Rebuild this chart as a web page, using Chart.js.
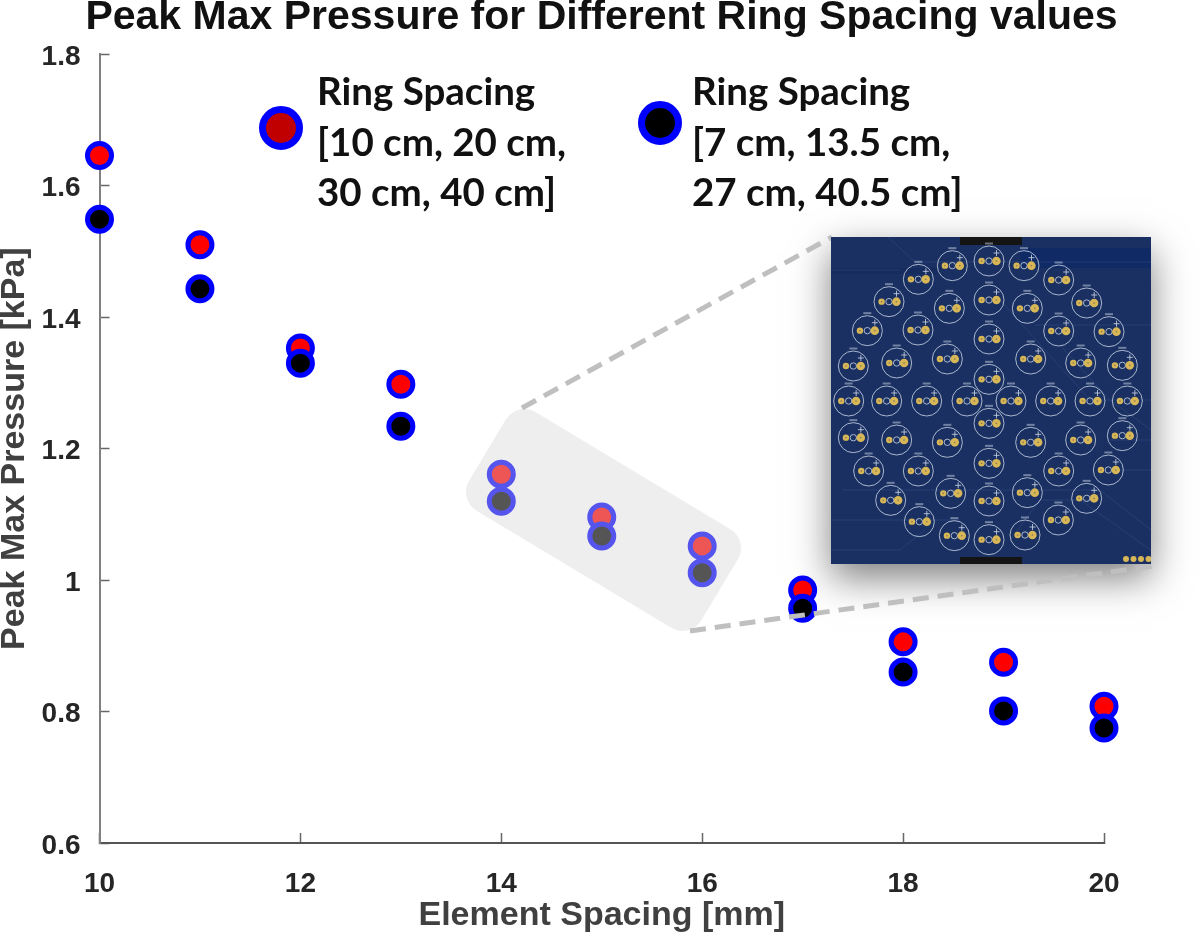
<!DOCTYPE html>
<html>
<head>
<meta charset="utf-8">
<title>Peak Max Pressure</title>
<script src="https://cdn.jsdelivr.net/npm/chart.js@4"></script>
<style>
  html, body { margin: 0; padding: 0; background: #fff; }
  canvas { display: block; filter: blur(0.5px); }
</style>
</head>
<body>
<canvas id="myChart" width="1200" height="936"></canvas>
<script>
const elementSpacing = [10, 11, 12, 13, 14, 15, 16, 17, 18, 19, 20];
const pressure10cm = [1.646, 1.510, 1.353, 1.298, 1.161, 1.096, 1.052, 0.985, 0.906, 0.875, 0.808];
const pressure7cm = [1.549, 1.443, 1.330, 1.234, 1.120, 1.067, 1.011, 0.957, 0.860, 0.801, 0.775];
const yTickValues = [0.6, 0.8, 1, 1.2, 1.4, 1.6, 1.8];
const xTickValues = [10, 12, 14, 16, 18, 20];

const legend10cm = ["Ring Spacing", "[10 cm, 20 cm,", "30 cm, 40 cm]"];
const legend7cm = ["Ring Spacing", "[7 cm, 13.5 cm,", "27 cm, 40.5 cm]"];

// coil layout of the inset board picture, not chart data
const coils = [
  [507,108],[612,122],[716,165],[800,234],[867,320],[907,421],[922,528],[907,632],
  [865,735],[800,820],[715,885],[615,930],[507,944],[403,932],[298,890],[212,826],
  [146,738],[100,638],[86,528],[100,423],[142,317],[207,230],[295,163],[397,122],
  [507,225],[622,250],[716,318],[782,414],[810,528],[782,645],[716,738],[622,803],
  [507,828],[392,805],[295,738],[230,645],[200,528],[230,414],[294,315],[388,250],
  [507,342],[632,402],[692,528],[632,652],[507,715],[382,652],[320,528],[382,402],
  [507,463],[573,528],[507,595],[441,528],
];

const toPoints = (ys) => elementSpacing.map((x, i) => ({ x: x, y: ys[i] }));

function drawLegendEntry(ctx, cx, cy, fill, tx, lines) {
  ctx.beginPath();
  ctx.arc(cx, cy, 18.5, 0, Math.PI * 2);
  ctx.fillStyle = fill;
  ctx.fill();
  ctx.lineWidth = 7;
  ctx.strokeStyle = "#0000ff";
  ctx.stroke();
  ctx.fillStyle = "#111";
  ctx.font = "bold 38.5px Lato";
  ctx.textAlign = "left";
  ctx.textBaseline = "alphabetic";
  lines.forEach((line, i) => ctx.fillText(line, tx, 105 + i * 50.5));
}

const board = { x: 831, y: 237, w: 320, h: 327 };

function drawBoardShadow(ctx) {
  ctx.save();
  ctx.shadowColor = "rgba(0,0,0,0.5)";
  ctx.shadowBlur = 36;
  ctx.shadowOffsetY = 14;
  ctx.fillStyle = "#1a3062";
  ctx.fillRect(board.x, board.y, board.w, board.h);
  ctx.restore();
}

function drawBoard(ctx) {
  const { x: bx, y: by, w: bw, h: bh } = board;
  const zx = (v) => 820 + v / 3;
  const zy = (v) => 225 + v / 3;

  ctx.save();
  ctx.beginPath();
  ctx.rect(bx, by, bw, bh);
  ctx.clip();
  ctx.fillStyle = "#1a3062";
  ctx.fillRect(bx, by, bw, bh);
  ctx.filter = "blur(0.6px)";

  // darker band + faint traces in the copper
  ctx.fillStyle = "#102a66";
  ctx.fillRect(1020, by + 11, 131, 20);
  ctx.fillStyle = "#172c5e";
  ctx.fillRect(bx, by + 31, 110, 6);
  ctx.strokeStyle = "rgba(70,100,160,0.3)";
  ctx.lineWidth = 1;
  [
    [[888,237],[915,262],[1151,262]],
    [[831,270],[900,270]],
    [[1000,300],[1090,400],[1151,400]],
    [[1035,325],[1151,325]],
    [[1060,345],[1110,400],[1151,430]],
    [[1110,440],[1151,440]],
    [[1110,470],[1151,470]],
    [[1080,500],[1151,550]],
    [[842,490],[1100,490],[1151,530]],
    [[831,520],[960,520]],
    [[831,550],[900,550],[925,530]],
    [[1010,540],[1040,500],[1090,500]],
  ].forEach((path) => {
    ctx.beginPath();
    path.forEach((p, i) => (i ? ctx.lineTo(p[0], p[1]) : ctx.moveTo(p[0], p[1])));
    ctx.stroke();
  });

  ctx.fillStyle = "#141414";
  ctx.fillRect(960, by, 62, 8);
  ctx.fillRect(960, 557, 62, 8);

  coils.forEach((c) => {
    const x = zx(c[0]), y = zy(c[1]);
    ctx.strokeStyle = "rgba(195,207,224,0.85)";
    ctx.lineWidth = 1;
    ctx.beginPath();
    ctx.arc(x, y, 15, 0, Math.PI * 2);
    ctx.stroke();
    ctx.beginPath();
    ctx.arc(x, y, 3.2, 0, Math.PI * 2);
    ctx.stroke();
    // pads
    ctx.fillStyle = "#d6b656";
    ctx.beginPath();
    ctx.arc(x - 7.4, y, 3.2, 0, Math.PI * 2);
    ctx.fill();
    ctx.beginPath();
    ctx.arc(x + 7.4, y, 4.3, 0, Math.PI * 2);
    ctx.fill();
    ctx.fillStyle = "#8a7a50";
    ctx.fillRect(x - 8.1, y - 0.7, 1.4, 1.4);
    ctx.fillRect(x + 6.7, y - 0.7, 1.4, 1.4);
    // plus sign above the big pad
    ctx.fillStyle = "rgba(195,207,224,0.85)";
    ctx.fillRect(x + 4.5, y - 8.5, 6, 1);
    ctx.fillRect(x + 7, y - 11, 1, 6);
    // small silkscreen mark
    ctx.fillStyle = "rgba(220,228,240,0.45)";
    ctx.fillRect(x - 4, y - 18.5, 8, 2);
  });

  // connector pads bottom right
  ctx.fillStyle = "#d6b656";
  for (let i = 0; i < 4; i++) {
    ctx.beginPath();
    ctx.arc(1126 + i * 7.5, 559, 3, 0, Math.PI * 2);
    ctx.fill();
  }
  ctx.restore();
}

const overlayPlugin = {
  id: "overlay",
  beforeDraw(chart) {
    const ctx = chart.ctx;
    ctx.save();
    ctx.fillStyle = "#fff";
    ctx.fillRect(0, 0, chart.width, chart.height);
    ctx.restore();
  },
  afterDatasetsDraw(chart) {
    const ctx = chart.ctx;
    ctx.save();

    // callout box washing out the three middle pairs
    ctx.save();
    ctx.translate(603.5, 520);
    ctx.rotate((31 * Math.PI) / 180);
    ctx.beginPath();
    ctx.roundRect(-135.5, -57.5, 271, 115, 22);
    ctx.fillStyle = "rgba(212,212,212,0.4)";
    ctx.fill();
    ctx.restore();

    drawBoardShadow(ctx);

    // dashed zoom lines, on top of the shadow
    ctx.strokeStyle = "#bfbfbf";
    ctx.lineWidth = 5;
    ctx.setLineDash([16, 9]);
    ctx.beginPath();
    ctx.moveTo(522, 408);
    ctx.lineTo(832, 237);
    ctx.moveTo(690, 631);
    ctx.lineTo(1153, 566);
    ctx.stroke();
    ctx.setLineDash([]);

    drawBoard(ctx);

    drawLegendEntry(ctx, 281, 128, "#c00000", 317, legend10cm);
    drawLegendEntry(ctx, 660, 123, "#000000", 692, legend7cm);
    ctx.restore();
  },
};

const pointStyle = {
  showLine: false,
  pointRadius: 12,
  pointHoverRadius: 12,
  pointBorderWidth: 5,
  pointBorderColor: "#0000ff",
  clip: false,
};

new Chart(document.getElementById("myChart").getContext("2d"), {
  type: "scatter",
  data: {
    datasets: [
      { ...pointStyle, label: "Ring Spacing 10 cm", data: toPoints(pressure10cm), pointBackgroundColor: "#ff0000", backgroundColor: "#ff0000", order: 2 },
      { ...pointStyle, label: "Ring Spacing 7 cm", data: toPoints(pressure7cm), pointBackgroundColor: "#000000", backgroundColor: "#000000", order: 1 },
    ],
  },
  plugins: [overlayPlugin],
  options: {
    responsive: false,
    devicePixelRatio: 1,
    animation: false,
    layout: { padding: { top: 0, right: 0, bottom: 0, left: 3 } },
    plugins: {
      legend: { display: false },
      tooltip: { enabled: false },
      title: {
        display: true,
        text: "Peak Max Pressure for Different Ring Spacing values",
        color: "#111",
        font: { family: "Liberation Sans", weight: "bold", size: 41 },
        padding: { top: -7, bottom: 12 },
      },
    },
    scales: {
      x: {
        type: "linear",
        min: 10,
        max: 20,
        afterBuildTicks: (axis) => { axis.ticks = xTickValues.map((v) => ({ value: v })); },
        afterFit: (axis) => { axis.height = 93; },
        border: { color: "#555", width: 2 },
        grid: { drawOnChartArea: false, tickLength: -10, tickColor: "#666", tickWidth: 1.5 },
        ticks: {
          color: "#262626",
          font: { family: "Liberation Sans", weight: "bold", size: 28 },
          padding: 34,
          maxRotation: 0,
        },
        title: {
          display: true,
          text: "Element Spacing [mm]",
          color: "#404040",
          font: { family: "Liberation Sans", weight: "bold", size: 34 },
          padding: { top: -2, bottom: 0 },
        },
      },
      y: {
        type: "linear",
        min: 0.6,
        max: 1.8,
        afterBuildTicks: (axis) => { axis.ticks = yTickValues.map((v) => ({ value: v })); },
        afterFit: (axis) => { axis.width = 96.5; },
        border: { color: "#808080", width: 2 },
        grid: { drawOnChartArea: false, tickLength: -10, tickColor: "#666", tickWidth: 1.5 },
        ticks: {
          color: "#262626",
          font: { family: "Liberation Sans", weight: "bold", size: 28 },
          padding: 29,
          labelOffset: 3,
          callback: (v) => String(v),
        },
        title: {
          display: true,
          text: "Peak Max Pressure [kPa]",
          color: "#404040",
          font: { family: "Liberation Sans", weight: "bold", size: 34 },
          padding: { top: -9, bottom: 0 },
        },
      },
      // empty axis, only keeps the room right of the plot so the title stays centred on the page
      rightRoom: {
        type: "linear",
        position: "right",
        display: true,
        min: 0,
        max: 1,
        afterFit: (axis) => { axis.width = 96; },
        border: { display: false },
        grid: { display: false },
        ticks: { display: false },
      },
    },
  },
});
</script>
</body>
</html>
